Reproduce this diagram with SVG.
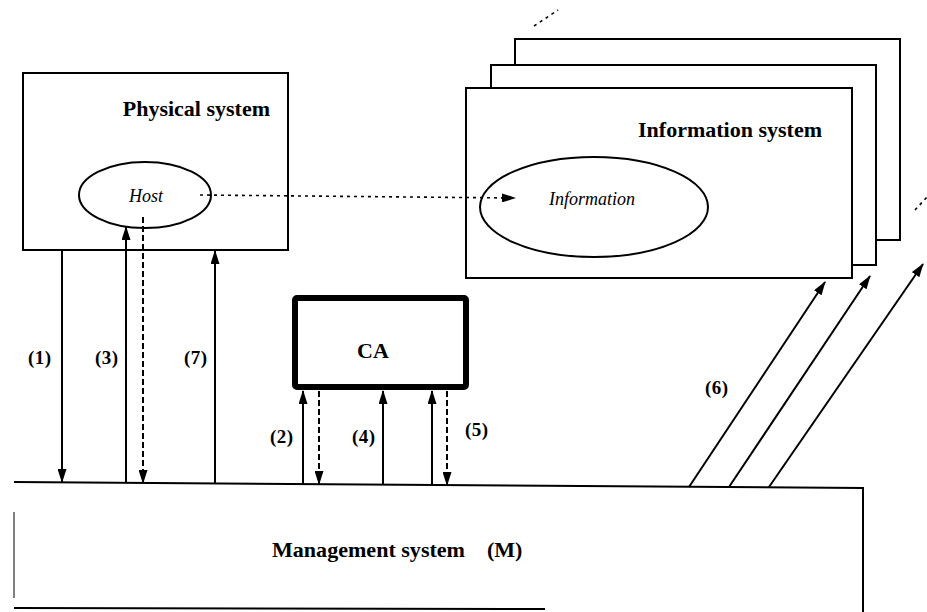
<svg xmlns="http://www.w3.org/2000/svg" width="927" height="612" viewBox="0 0 927 612">
<style>
.box{fill:#fff;stroke:#000;stroke-width:2}
.ell{fill:#fff;stroke:#000;stroke-width:2}
.title{font-family:"Liberation Serif","Times New Roman",serif;font-weight:bold;font-size:22px;fill:#000}
.ital{font-family:"Liberation Serif","Times New Roman",serif;font-style:italic;font-size:18px;fill:#000}
.lbl{font-family:"Liberation Serif","Times New Roman",serif;font-weight:bold;font-size:19px;fill:#000;letter-spacing:0.5px}
.ar{stroke:#000;stroke-width:2;fill:none}
.dash{stroke:#000;stroke-width:2;fill:none;stroke-dasharray:6,3}
.dot{stroke:#000;stroke-width:1.6;fill:none;stroke-dasharray:3,4}
</style>
<defs>
<marker id="ah" markerUnits="userSpaceOnUse" markerWidth="14" markerHeight="9" refX="13" refY="4.5" orient="auto">
<path d="M0,0 L14,4.5 L0,9 z" fill="#000"/>
</marker>
</defs>
<rect width="927" height="612" fill="#fff"/>

<g id="management">
<polyline points="14,482 863,488 863,612" fill="none" stroke="#000" stroke-width="2"/>
<line x1="14" y1="608" x2="545" y2="609" stroke="#000" stroke-width="2"/>
<line x1="14" y1="512" x2="14" y2="598" stroke="#000" stroke-width="1"/>
<text class="title" x="272" y="557" textLength="193" lengthAdjust="spacingAndGlyphs">Management system</text>
<text class="title" x="487" y="557">(M)</text>
</g>

<g id="physical">
<rect class="box" x="23" y="73" width="265" height="177"/>
<text class="title" x="270" y="116" text-anchor="end">Physical system</text>
</g>

<g id="host">
<ellipse class="ell" cx="145" cy="195" rx="66" ry="33"/>
<text class="ital" x="146" y="202" text-anchor="middle">Host</text>
</g>

<g id="information-system">
<rect class="box" x="515" y="39" width="385" height="201"/>
<rect class="box" x="491" y="65" width="385" height="200"/>
<rect class="box" x="466" y="88" width="386" height="190"/>
<text class="title" x="822" y="137" text-anchor="end">Information system</text>
</g>

<g id="information">
<ellipse class="ell" cx="594" cy="207" rx="114" ry="50"/>
<text class="ital" x="592" y="205" text-anchor="middle">Information</text>
</g>

<g id="ca">
<rect x="295" y="298" width="171" height="89" fill="#fff" stroke="#000" stroke-width="6" rx="2"/>
<text class="title" x="373" y="358" text-anchor="middle" font-size="24">CA</text>
</g>

<g id="connectors">
<line class="dot" x1="200" y1="195" x2="515" y2="198" marker-end="url(#ah)"/>
<line class="ar" x1="62" y1="251" x2="62" y2="482" marker-end="url(#ah)"/>
<line class="ar" x1="126" y1="483" x2="126" y2="227" marker-end="url(#ah)"/>
<line class="dash" x1="143" y1="217" x2="143" y2="483" marker-end="url(#ah)"/>
<line class="ar" x1="215" y1="483" x2="215" y2="251" marker-end="url(#ah)"/>
<line class="ar" x1="303" y1="484" x2="303" y2="391" marker-end="url(#ah)"/>
<line class="dash" x1="319" y1="391" x2="319" y2="484" marker-end="url(#ah)"/>
<line class="ar" x1="383" y1="485" x2="383" y2="391" marker-end="url(#ah)"/>
<line class="ar" x1="432" y1="485" x2="432" y2="391" marker-end="url(#ah)"/>
<line class="dash" x1="447" y1="391" x2="447" y2="485" marker-end="url(#ah)"/>
<line class="ar" x1="689" y1="487" x2="825" y2="282" marker-end="url(#ah)"/>
<line class="ar" x1="729" y1="487" x2="870" y2="276" marker-end="url(#ah)"/>
<line class="ar" x1="769" y1="487" x2="923" y2="264" marker-end="url(#ah)"/>
<line class="dot" x1="534" y1="26" x2="558" y2="10"/>
<line class="dot" x1="915" y1="210" x2="927" y2="197"/>
</g>

<g id="labels">
<text class="lbl" x="28" y="364">(1)</text>
<text class="lbl" x="95" y="364">(3)</text>
<text class="lbl" x="184" y="364">(7)</text>
<text class="lbl" x="270" y="443">(2)</text>
<text class="lbl" x="352" y="443">(4)</text>
<text class="lbl" x="465" y="436">(5)</text>
<text class="lbl" x="705" y="394">(6)</text>
</g>
</svg>
